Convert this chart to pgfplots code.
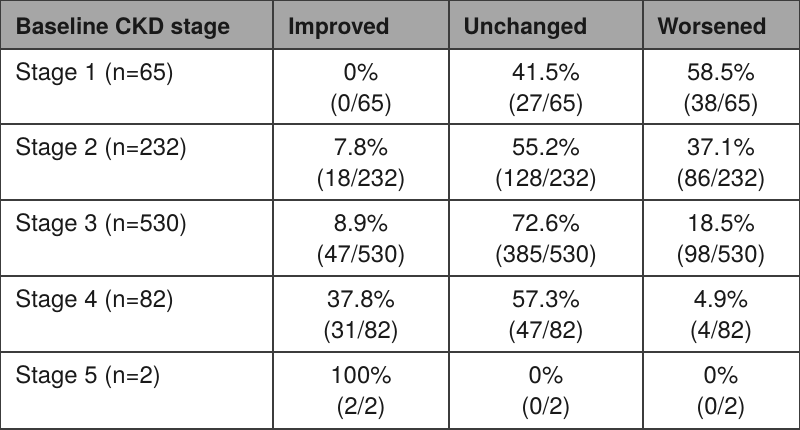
\documentclass[border=0pt]{standalone}
\usepackage{fontspec}
\setmainfont{TeX Gyre Heros}
\usepackage{pgfplots}
\usepackage{pgfplotstable}
\pgfplotsset{compat=1.18}
\definecolor{hdr}{RGB}{166,166,166}
\definecolor{rule}{RGB}{60,60,60}
\definecolor{txt}{RGB}{25,25,25}

\pgfplotstableread[col sep=comma]{
x,y,label
15,35,Baseline CKD stage
288,35,Improved
463,35,Unchanged
657,35,Worsened
}\header

\pgfplotstableread[col sep=comma]{
x,y,label
15,80,Stage 1 (n=65)
15,155,Stage 2 (n=232)
15,231,Stage 3 (n=530)
15,307,Stage 4 (n=82)
15,383,Stage 5 (n=2)
}\stages

% percentage lines (x = column centre, y = baseline in px)
\pgfplotstableread[col sep=comma]{
x,y,pct
361,80,0
546,80,41.5
721,80,58.5
361,155,7.8
546,155,55.2
721,155,37.1
361,231,8.9
546,231,72.6
721,231,18.5
361,307,37.8
546,307,57.3
721,307,4.9
361,383,100
546,383,0
721,383,0
}\pcts

\pgfplotstableread[col sep=comma]{
x,y,label
361,111,(0/65)
546,111,(27/65)
721,111,(38/65)
361,186,(18/232)
546,186,(128/232)
721,186,(86/232)
361,262,(47/530)
546,262,(385/530)
721,262,(98/530)
361,338,(31/82)
546,338,(47/82)
721,338,(4/82)
361,414,(2/2)
546,414,(0/2)
721,414,(0/2)
}\fracs

\begin{document}
\begin{tikzpicture}
\begin{axis}[
  width=400bp, height=214.5bp, scale only axis,
  xmin=0, xmax=800, ymin=0, ymax=429, y dir=reverse,
  xtick={273,449,643}, ytick={49,124,200,276,352},
  xticklabels={}, yticklabels={},
  major tick length=0pt,
  grid=major,
  major grid style={draw=rule, line width=1bp},
  axis line style={draw=rule, line width=1.2bp},
  axis on top,
  clip=false,
  /pgf/number format/assume math mode=true,
  nodes near coords style={font=\fontsize{12}{14}\selectfont, text=txt, inner sep=0pt},
]
\addplot[fill=hdr, draw=none] coordinates {(0,0) (800,0) (800,49) (0,49)} -- cycle;

\addplot[draw=none, nodes near coords, point meta=explicit symbolic,
  nodes near coords style={anchor=base west, font=\fontsize{11.4}{14}\selectfont\bfseries}]
  table[x=x, y=y, meta=label] {\header};

\addplot[draw=none, nodes near coords, point meta=explicit symbolic,
  nodes near coords style={anchor=base west}]
  table[x=x, y=y, meta=label] {\stages};

\addplot[draw=none, point meta=explicit,
  nodes near coords={\pgfmathprintnumber[fixed, precision=1, assume math mode=true]{\pgfplotspointmeta}\%},
  nodes near coords style={anchor=base}]
  table[x=x, y=y, meta=pct] {\pcts};

\addplot[draw=none, nodes near coords, point meta=explicit symbolic,
  nodes near coords style={anchor=base}]
  table[x=x, y=y, meta=label] {\fracs};
\end{axis}
\pgfresetboundingbox
\path (current axis.south west) rectangle (current axis.north east);
\end{tikzpicture}
\end{document}
